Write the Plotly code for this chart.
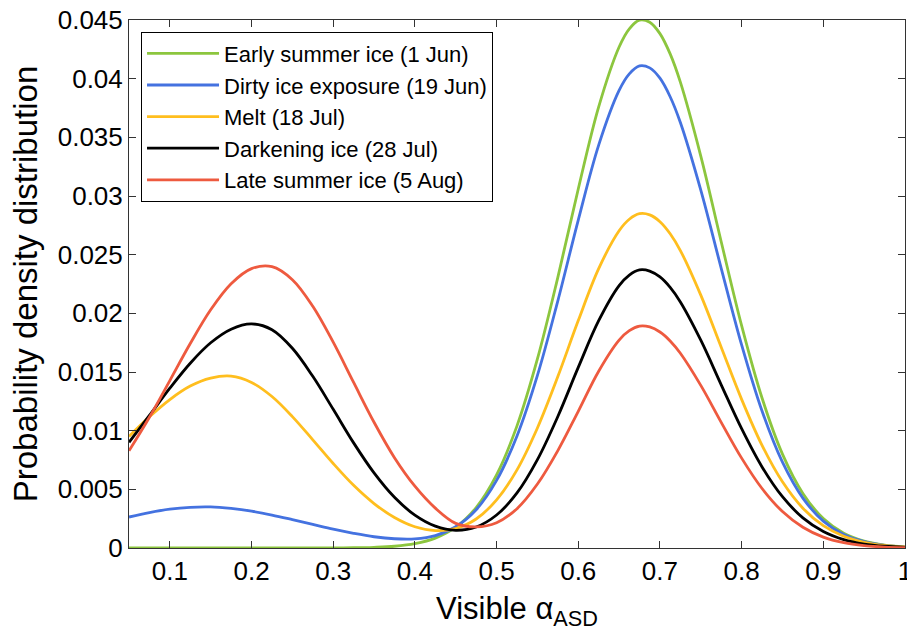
import plotly.graph_objects as go

albedo = [0.05, 0.075, 0.1, 0.125, 0.15, 0.175, 0.2, 0.225, 0.25, 0.275,
          0.3, 0.325, 0.35, 0.375, 0.4, 0.425, 0.45, 0.475, 0.5, 0.525,
          0.55, 0.575, 0.6, 0.625, 0.65, 0.6625, 0.675, 0.6875, 0.7, 0.7125, 0.725, 0.75, 0.775,
          0.8, 0.825, 0.85, 0.875, 0.9, 0.925, 0.95, 0.975, 1.0]

early_summer = [0, 0, 0, 0, 0, 0, 0, 0, 0, 0,
                0.00001, 0.00002, 0.00006, 0.00015, 0.00037, 0.00084, 0.00177, 0.00345, 0.00623, 0.01041,
                0.01611, 0.02307, 0.0306, 0.0376, 0.0427, 0.04425, 0.04499, 0.04481, 0.04384, 0.04211, 0.0397, 0.0334, 0.0261,
                0.01895, 0.01278, 0.008, 0.00465, 0.00251, 0.00126, 0.00059, 0.00025, 0.0001]

dirty_ice = [0.00264, 0.00302, 0.00331, 0.00347, 0.0035, 0.00337, 0.00314, 0.00281, 0.00242, 0.00201,
             0.0016, 0.00125, 0.00096, 0.00079, 0.00078, 0.00106, 0.00181, 0.00326, 0.00576, 0.00955,
             0.01471, 0.02107, 0.02795, 0.03434, 0.039, 0.04041, 0.04109, 0.04092, 0.04004, 0.03846, 0.03626, 0.0305, 0.02384,
             0.01731, 0.01167, 0.00731, 0.00425, 0.00229, 0.00115, 0.00054, 0.00023, 0.00009]

melt = [0.00951, 0.01118, 0.01265, 0.0138, 0.01448, 0.01465, 0.01411, 0.01291, 0.0112, 0.00922,
        0.0072, 0.00534, 0.00379, 0.0026, 0.00181, 0.00148, 0.00166, 0.00247, 0.0041, 0.00666,
        0.01023, 0.01461, 0.01938, 0.02381, 0.02704, 0.02802, 0.02849, 0.02839, 0.02781, 0.02678, 0.02535, 0.02155, 0.01711,
        0.01267, 0.00875, 0.00564, 0.00339, 0.0019, 0.001, 0.00049, 0.00022, 0.00009]

darkening = [0.00901, 0.0113, 0.01362, 0.01575, 0.01749, 0.01865, 0.0191, 0.0186, 0.01702, 0.01463,
             0.01182, 0.00896, 0.0064, 0.00432, 0.0028, 0.00186, 0.00151, 0.00179, 0.00281, 0.00469,
             0.00753, 0.01121, 0.01539, 0.01937, 0.02236, 0.02326, 0.0237, 0.0236, 0.0231, 0.02221, 0.02097, 0.01771, 0.01391,
             0.01017, 0.00691, 0.00437, 0.00257, 0.00141, 0.00072, 0.00034, 0.00015, 0.00006]

late_summer = [0.00828, 0.01114, 0.01427, 0.01743, 0.0203, 0.02252, 0.02381, 0.02398, 0.02287, 0.0206,
               0.01754, 0.01411, 0.01072, 0.0077, 0.00527, 0.0034, 0.0021, 0.0018, 0.00215, 0.00335,
               0.00545, 0.0083, 0.01165, 0.01507, 0.01772, 0.01852, 0.01891, 0.01884, 0.01841, 0.01765, 0.0166, 0.01386, 0.01071,
               0.00766, 0.00507, 0.00311, 0.00177, 0.00093, 0.00045, 0.0002, 0.00008, 0.00003]

series_names = ["Early summer ice (1 Jun)", "Dirty ice exposure (19 Jun)", "Melt (18 Jul)",
                "Darkening ice (28 Jul)", "Late summer ice (5 Aug)"]
series_values = [early_summer, dirty_ice, melt, darkening, late_summer]
colors = ["#8cc63e", "#4472e0", "#ffbe1e", "#000000", "#ee5a3f"]

x_tickvals = [0.1, 0.2, 0.3, 0.4, 0.5, 0.6, 0.7, 0.8, 0.9, 1.0]
x_ticktext = ["0.1", "0.2", "0.3", "0.4", "0.5", "0.6", "0.7", "0.8", "0.9", "1"]
y_tickvals = [0, 0.005, 0.01, 0.015, 0.02, 0.025, 0.03, 0.035, 0.04, 0.045]
y_ticktext = ["0", "0.005", "0.01", "0.015", "0.02", "0.025", "0.03", "0.035", "0.04", "0.045"]

fig = go.Figure()
for name, vals, col in zip(series_names, series_values, colors):
    fig.add_trace(go.Scatter(x=albedo, y=vals, mode="lines", name=name,
                             line=dict(color=col, width=2.8, shape="spline", smoothing=1.0)))

FONT = "Liberation Sans, Arial, Helvetica, sans-serif"
fig.update_layout(
    width=907, height=634,
    margin=dict(l=129, r=2, t=20, b=86),
    paper_bgcolor="white", plot_bgcolor="white",
    font=dict(family=FONT, color="black", size=26),
    showlegend=True,
    legend=dict(x=0.0155, y=0.978, xanchor="left", yanchor="top",
                bgcolor="white", bordercolor="black", borderwidth=1,
                font=dict(family=FONT, size=22, color="black"),
                itemwidth=72, tracegroupgap=0),
    xaxis=dict(range=[0.05, 1.0], tickmode="array", tickvals=x_tickvals, ticktext=x_ticktext,
               ticks="inside", ticklen=7, tickcolor="#333", tickwidth=1,
               showline=True, linecolor="#333", linewidth=1, mirror="ticks",
               showgrid=False, zeroline=False, ticklabeloverflow="allow", automargin=False,
               tickfont=dict(size=26),
               title=dict(text="Visible α<sub>ASD</sub>", font=dict(size=31), standoff=12)),
    yaxis=dict(range=[0, 0.045], tickmode="array", tickvals=y_tickvals, ticktext=y_ticktext,
               ticks="inside", ticklen=7, tickcolor="#333", tickwidth=1,
               showline=True, linecolor="#333", linewidth=1, mirror="ticks",
               showgrid=False, zeroline=False, automargin=False,
               tickfont=dict(size=26),
               title=dict(text="Probability density distribution", font=dict(size=33), standoff=10)),
)

fig.write_html("out.html")
